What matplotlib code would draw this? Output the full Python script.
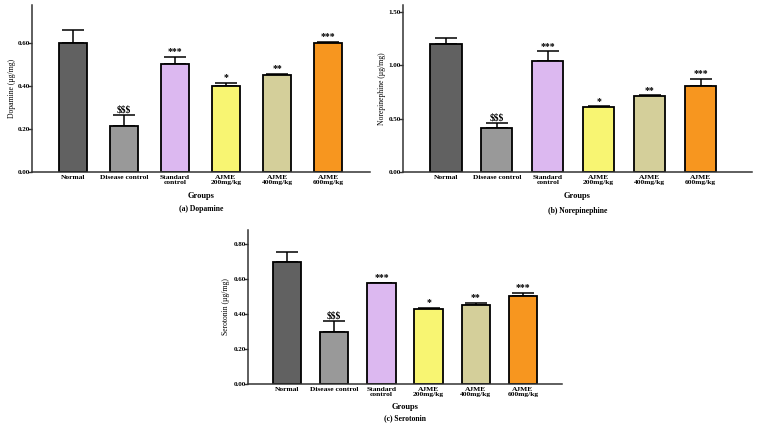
import numpy as np
import matplotlib
matplotlib.use("Agg")
import matplotlib.pyplot as plt

groups = ["Normal", "Disease control", "Standard\ncontrol",
          "AJME\n200mg/kg", "AJME\n400mg/kg", "AJME\n600mg/kg"]
colors = ["#616161", "#999999", "#dcb8f0", "#f8f572", "#d4cf9a", "#f7961f"]
signif = ["", r"\$\$\$", "***", "*", "**", "***"]

dopamine = [0.60, 0.215, 0.50, 0.40, 0.45, 0.60]
dopamine_err = [0.06, 0.05, 0.035, 0.013, 0.005, 0.005]
norepinephine = [1.20, 0.41, 1.04, 0.61, 0.71, 0.81]
norepinephine_err = [0.06, 0.05, 0.09, 0.005, 0.008, 0.06]
serotonin = [0.70, 0.30, 0.575, 0.43, 0.45, 0.505]
serotonin_err = [0.057, 0.058, 0.004, 0.006, 0.014, 0.015]

plt.rcParams['font.family'] = ['Liberation Serif', 'DejaVu Serif']
plt.rcParams['font.weight'] = 'bold'

W, H = 757, 426
fig = plt.figure(figsize=(W / 100, H / 100), dpi=100)


def add_axes(x0, x1, y0, y1):
    # pixel box -> figure fraction
    return fig.add_axes([x0 / W, 1 - y1 / H, (x1 - x0) / W, (y1 - y0) / H])


def panel(ax, vals, errs, ylabel, ymax, yticks, xlim, width, caption, cap_y, grp_y, ylab_x):
    x = np.arange(len(groups))
    ax.bar(x, vals, width=width, color=colors, edgecolor="black", linewidth=1.3, zorder=2)
    ax.errorbar(x, vals, yerr=[np.zeros(len(vals)), errs], fmt="none",
                ecolor="black", elinewidth=1.1, capsize=8, capthick=1.1, zorder=1)
    for xi, v, e, s in zip(x, vals, errs, signif):
        if s:
            ax.text(xi, v + e + ymax * 0.004, s, ha="center", va="bottom",
                    fontsize=7, fontweight="bold")
    ax.set_xlim(*xlim)
    ax.set_ylim(0, ymax)
    ax.set_yticks(yticks)
    ax.set_yticklabels(["%.2f" % t for t in yticks])
    ax.set_xticks(x)
    ax.set_xticklabels(groups, linespacing=0.95)
    ax.tick_params(axis="x", length=0, pad=2, labelsize=5.4)
    ax.tick_params(axis="y", length=3, width=1, pad=-1.5, labelsize=5, colors="#333333")
    for lab in ax.get_yticklabels():
        lab.set_color("black")
    for sp in ["top", "right"]:
        ax.spines[sp].set_visible(False)
    for sp in ["left", "bottom"]:
        ax.spines[sp].set_linewidth(1.1)
        ax.spines[sp].set_color("#333333")
    ax.set_ylabel(ylabel, fontsize=5.5)
    ax.yaxis.set_label_coords(ylab_x, 0.5)
    bb = ax.get_position()
    cx = (bb.x0 + bb.x1) / 2
    fig.text(cx, 1 - grp_y / H, "Groups", ha="center", va="center", fontsize=6)
    fig.text(cx, 1 - cap_y / H, caption, ha="center", va="center", fontsize=5.5)


ax1 = add_axes(32, 370, 5, 172)
panel(ax1, dopamine, dopamine_err, "Dopamine (µg/mg)", 0.775,
      [0, 0.2, 0.4, 0.6], (-0.80, 5.82), 0.55, "(a) Dopamine", 209, 196, -0.048)

ax2 = add_axes(403, 752, 5, 172)
panel(ax2, norepinephine, norepinephine_err, "Norepinephine (µg/mg)", 1.565,
      [0, 0.5, 1.0, 1.5], (-0.845, 6.01), 0.61, "(b) Norepinephine", 211, 196, -0.05)

ax3 = add_axes(248, 562, 230, 384)
panel(ax3, serotonin, serotonin_err, "Serotonin (µg/mg)", 0.88,
      [0, 0.2, 0.4, 0.6, 0.8], (-0.83, 5.83), 0.6, "(c) Serotonin", 418, 407, -0.057)

fig.savefig("out.png", dpi=100)
